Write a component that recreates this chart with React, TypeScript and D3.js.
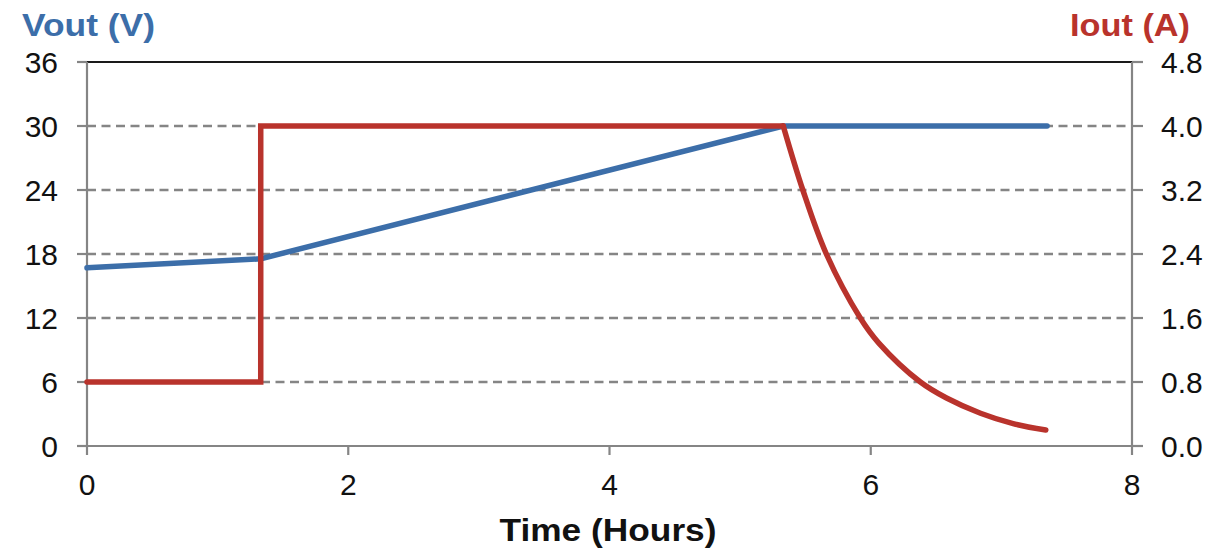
import React from "react";
import * as d3 from "d3";

const voltTicks = [0, 6, 12, 18, 24, 30, 36];
const ampTicks = [0.0, 0.8, 1.6, 2.4, 3.2, 4.0, 4.8];
const hourTicks = [0, 2, 4, 6, 8];

const voutHours = [0, 1.33, 5.33, 7.35];
const voutVolts = [16.7, 17.55, 30, 30];

const ioutStepHours = [0, 1.33, 1.33, 5.33];
const ioutStepAmps = [0.8, 0.8, 4.0, 4.0];

const ioutDecayHours = [5.33, 5.48, 5.66, 5.92, 6.06, 6.38, 6.58, 6.84, 7.09, 7.34];
const ioutDecayAmps = [4.0, 3.2, 2.4, 1.6, 1.29, 0.8, 0.6, 0.41, 0.28, 0.2];

const W = 1227;
const H = 550;
const L = 87;
const R = 1132;
const T = 62;
const B = 446;

const BLUE = "#3c6ea9";
const RED = "#b9332c";
const GRID = "#858585";
const FONT = "'Liberation Sans', Arial, sans-serif";

export default function App() {
  const x = d3.scaleLinear().domain([0, 8]).range([L, R]);
  const yV = d3.scaleLinear().domain([0, 36]).range([B, T]);
  const yA = d3.scaleLinear().domain([0, 4.8]).range([B, T]);

  const blueLine = d3
    .line<number>()
    .x((_, i) => x(voutHours[i]))
    .y((v) => yV(v))
    .curve(d3.curveLinear)(voutVolts);

  const redStep = d3
    .line<number>()
    .x((_, i) => x(ioutStepHours[i]))
    .y((a) => yA(a))
    .curve(d3.curveLinear)(ioutStepAmps);

  const redDecay = d3
    .line<number>()
    .x((_, i) => x(ioutDecayHours[i]))
    .y((a) => yA(a))
    .curve(d3.curveCatmullRom.alpha(0.5))(ioutDecayAmps);

  return (
    <div style={{ position: "absolute", left: 0, top: 0 }}>
      <svg width={W} height={H} style={{ display: "block", background: "#fff" }}>
        {voltTicks
          .filter((v) => v > 0 && v < 36)
          .map((v) => (
            <line
              key={"g" + v}
              x1={L}
              x2={R}
              y1={yV(v)}
              y2={yV(v)}
              stroke={GRID}
              strokeWidth={2.4}
              strokeDasharray="9,5.5"
            />
          ))}
        <line x1={L} x2={R} y1={yV(36)} y2={yV(36)} stroke="#1a1a1a" strokeWidth={2.2} />
        <line x1={L} x2={L} y1={T} y2={B} stroke={GRID} strokeWidth={2.2} />
        <line x1={R} x2={R} y1={T} y2={B} stroke={GRID} strokeWidth={2.2} />
        <line x1={L - 10} x2={R + 11} y1={B} y2={B} stroke={GRID} strokeWidth={2.2} />
        {voltTicks.map((v) => (
          <line key={"lt" + v} x1={L - 10} x2={L} y1={yV(v)} y2={yV(v)} stroke={GRID} strokeWidth={2.2} />
        ))}
        {ampTicks.map((a) => (
          <line key={"rt" + a} x1={R} x2={R + 11} y1={yA(a)} y2={yA(a)} stroke={GRID} strokeWidth={2.2} />
        ))}
        {hourTicks.map((h) => (
          <line key={"bt" + h} x1={x(h)} x2={x(h)} y1={B} y2={B + 9} stroke={GRID} strokeWidth={2.2} />
        ))}

        {voltTicks.map((v) => (
          <text
            key={"lv" + v}
            x={58}
            y={yV(v)}
            dy="0.36em"
            textAnchor="end"
            fontFamily={FONT}
            fontSize={30}
            fill="#111"
          >
            {v}
          </text>
        ))}
        {ampTicks.map((a) => (
          <text
            key={"ra" + a}
            x={1161}
            y={yA(a)}
            dy="0.36em"
            textAnchor="start"
            fontFamily={FONT}
            fontSize={30}
            fill="#111"
          >
            {a.toFixed(1)}
          </text>
        ))}
        {hourTicks.map((h) => (
          <text
            key={"bh" + h}
            x={x(h)}
            y={495}
            textAnchor="middle"
            fontFamily={FONT}
            fontSize={30}
            fill="#111"
          >
            {h}
          </text>
        ))}

        <text
          x={608}
          y={541}
          textAnchor="middle"
          fontFamily={FONT}
          fontSize={32}
          fontWeight="bold"
          fill="#111"
          textLength={217}
          lengthAdjust="spacingAndGlyphs"
        >
          Time (Hours)
        </text>
        <text
          x={22}
          y={36}
          textAnchor="start"
          fontFamily={FONT}
          fontSize={32}
          fontWeight="bold"
          fill={BLUE}
          textLength={133}
          lengthAdjust="spacingAndGlyphs"
        >
          Vout (V)
        </text>
        <text
          x={1070}
          y={36}
          textAnchor="start"
          fontFamily={FONT}
          fontSize={32}
          fontWeight="bold"
          fill={RED}
          textLength={120}
          lengthAdjust="spacingAndGlyphs"
        >
          Iout (A)
        </text>

        <path d={blueLine || ""} fill="none" stroke={BLUE} strokeWidth={5.5} strokeLinejoin="round" strokeLinecap="round" />
        <path d={redStep || ""} fill="none" stroke={RED} strokeWidth={5.5} strokeLinejoin="miter" strokeLinecap="round" />
        <path d={redDecay || ""} fill="none" stroke={RED} strokeWidth={5.5} strokeLinejoin="round" strokeLinecap="round" />
      </svg>
    </div>
  );
}
